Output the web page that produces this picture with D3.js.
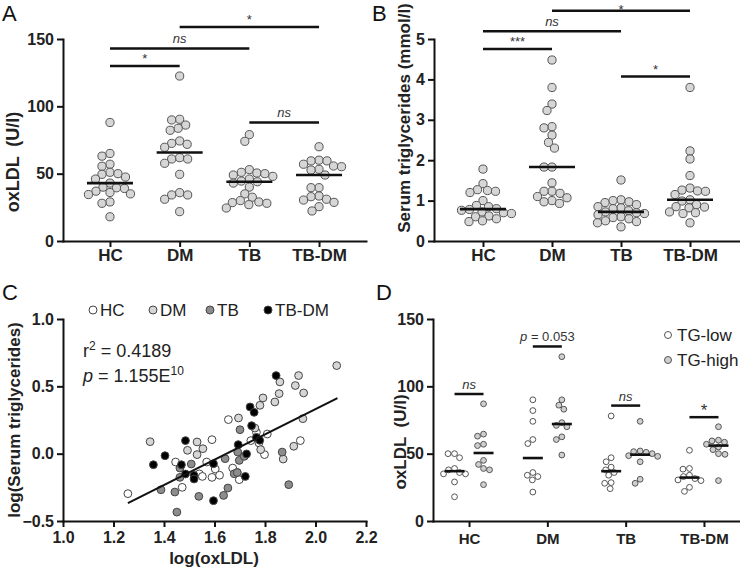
<!DOCTYPE html>
<html><head><meta charset="utf-8">
<script src="https://cdn.jsdelivr.net/npm/d3@7"></script>
<style>
body{margin:0;background:#fff;}
svg{font-family:"Liberation Sans",Arial,sans-serif;display:block;}
</style></head><body>
<svg id="fig" width="740" height="570"></svg>
<script>
// ---------- DATA ----------
const groups = ["HC","DM","TB","TB-DM"];

// Panel A: oxLDL (U/l)
const oxHC   = [88,65,63,57,55.5,51,50,49.5,47.5,46,43,40,39.5,39,37,36,35,34.5,29,28,18];
const oxDM   = [122.5,90.4,89.9,86.1,83.7,82.2,74.3,72.5,71.8,69.6,61.9,60.9,60.9,57.7,49.5,35.9,34.2,34.2,31,21.8];
const oxTB   = [79,74,53,51,50.5,50,49,48,46,44.5,44,43,40,35,32.5,30,29,28.5,28,27,24.5];
const oxTBDM = [70,60,59.5,59.5,57,55.7,55.2,53.2,52.7,49,39.6,39.6,33.4,32.9,31,30.4,28.7,25.5,22.3];
const ticksA = [0,50,100,150];
const sigA = [["HC","DM",130,"*"],["HC","TB",143,"ns"],["DM","TB-DM",159,"*"],["TB","TB-DM",88,"ns"]];

// Panel B: serum triglycerides (mmol/l)
const tgHC   = [1.78,1.42,1.27,1.25,1.23,1.2,1.0,0.88,0.85,0.8,0.78,0.76,0.72,0.7,0.68,0.62,0.6,0.55,0.5,0.48];
const tgDM   = [4.48,3.8,3.39,3.23,2.83,2.8,2.62,2.44,2.3,1.83,1.83,1.44,1.23,1.23,1.18,1.1,1.07,1.0,0.97,0.93];
const tgTB   = [1.51,1.02,1.0,0.97,0.95,0.9,0.85,0.82,0.8,0.75,0.72,0.7,0.68,0.65,0.6,0.58,0.55,0.5,0.48,0.45,0.35];
const tgTBDM = [3.8,2.23,2.03,1.62,1.31,1.26,1.24,1.23,1.15,1.02,0.99,0.9,0.85,0.84,0.82,0.72,0.7,0.68,0.45];
const ticksB = [0,1,2,3,4,5];
const sigB = [["HC","DM",4.75,"***"],["HC","TB",5.19,"ns"],["DM","TB-DM",5.7,"*"],["TB","TB-DM",4.07,"*"]];

// Panel C: log(oxLDL) vs log(serum TG)
const cHC = [[1.257,-0.297],[1.446,-0.062],[1.472,-0.25],[1.54,-0.15],[1.552,-0.169],[1.569,-0.062],[1.59,-0.176],[1.59,0.104],[1.603,-0.114],[1.655,0.253],[1.672,-0.107],[1.69,-0.14],[1.698,-0.193],[1.744,0.097],[1.766,0.159],[1.776,0.08],[1.798,-0.007],[1.809,0.146],[1.94,0.097],[1.62,-0.16]];
const cDM = [[2.084,0.654],[1.933,0.58],[1.859,0.533],[1.92,0.506],[1.856,0.446],[1.953,0.451],[1.792,0.414],[1.78,0.359],[1.839,0.384],[1.95,0.26],[1.695,0.265],[1.76,0.19],[1.345,0.089],[1.493,0.025],[1.531,0.087],[1.554,0.037],[1.531,-0.007],[1.914,0.055],[1.783,0.03],[1.872,-0.04]];
const cTB = [[1.388,-0.268],[1.443,-0.285],[1.451,-0.434],[1.463,-0.107],[1.463,-0.176],[1.508,-0.077],[1.538,-0.317],[1.642,-0.037],[1.636,-0.31],[1.653,-0.255],[1.701,0.178],[1.692,0.012],[1.698,-0.05],[1.678,-0.149],[1.69,-0.14],[1.868,0.012],[1.894,-0.23],[1.718,-0.02]];
const cTBDM = [[1.844,0.58],[1.741,0.347],[1.757,0.307],[1.747,0.208],[1.766,0.121],[1.779,0.099],[1.485,0.097],[1.404,-0.015],[1.358,-0.082],[1.469,-0.082],[1.485,-0.151],[1.519,-0.161],[1.519,-0.188],[1.596,-0.074],[1.596,-0.349],[1.694,0.067],[1.727,-0.002],[1.722,-0.169]];
const fitSlope = 0.94, fitIntercept = -1.549, fitRange = [1.257, 2.087];
const ticksCx = [1.0,1.2,1.4,1.6,1.8,2.0,2.2];
const ticksCy = [-0.5,0.0,0.5,1.0];

// Panel D: oxLDL by TG-low / TG-high
const dLowHC    = [50,50,47,39,38,36,35,35,29,18];
const dHighHC   = [87,64.5,63,57,56,45,42,39,38,27];
const dLowDM    = [90,82,74,60.5,57.5,36,34,33,30.5,21.5];
const dHighDM   = [122,90,86,83,73,71,70,62.5,60.5,49];
const dLowTB    = [78,47,44,40,38,36,34,28.5,28,24];
const dHighTB   = [74,52,51.5,51,50,48.5,48,44,31,28];
const dLowTBDM  = [52.5,39,38.5,34,33,31.5,30.5,30,25,22];
const dHighTBDM = [70,60,59.5,58.5,57,55,53,50,49.5,30];
const sigD = [["HC",94.3,"ns"],["DM",129.6,"p"],["TB",85.7,"ns"],["TB-DM",77.1,"*"]];

// ---------- DRAW ----------
const svg = d3.select("#fig");
const FONT_BOLD = 16;

function swarm(vals, y, r, gap) {
  const pts = vals.map(v => ({v, py: y(v)})).sort((a,b)=>a.py-b.py);
  const placed = [], d = 2*r + gap;
  for (const p of pts) {
    let off = 0;
    for (let k=0;k<400;k++){
      const o = (k%2===0?1:-1)*Math.ceil(k/2)*0.5;
      if (placed.every(q => (q.dx-o)**2 + (q.py-p.py)**2 >= d*d)) { off=o; break; }
    }
    p.dx = off; placed.push(p);
  }
  return pts;
}

function styleAxis(g, fs) {
  g.select(".domain").attr("stroke","#111").attr("stroke-width",2).attr("stroke-linecap","square");
  g.selectAll(".tick line").attr("stroke","#111").attr("stroke-width",2);
  g.selectAll(".tick text").attr("font-size",fs).attr("font-weight","bold").attr("fill","#222").attr("font-family","'Liberation Sans',Arial,sans-serif");
}

function panelLetter(t,x,y){
  svg.append("text").attr("x",x).attr("y",y).attr("font-size",22).attr("fill","#111").text(t);
}

function dotPanel(o){
  const x = d3.scalePoint().domain(groups).range(o.xr).padding(o.pad);
  const y = d3.scaleLinear().domain(o.yd).range(o.yr);
  const g = svg.append("g");
  o.series.forEach((vals,i)=>{
    const cx = x(groups[i]);
    const pts = swarm(vals, y, o.r, -0.2);
    g.selectAll(null).data(pts).join("circle")
      .attr("cx",p=>cx+p.dx).attr("cy",p=>p.py).attr("r",o.r)
      .attr("fill","#d6d6d6").attr("stroke","#555").attr("stroke-width",1);
    const m = d3.median(vals);
    g.append("line").attr("x1",cx-23).attr("x2",cx+23).attr("y1",y(m)).attr("y2",y(m))
      .attr("stroke","#111").attr("stroke-width",2.6);
  });
  o.sig.forEach(([a,b,v,lab])=>{
    g.append("line").attr("x1",x(a)).attr("x2",x(b)).attr("y1",y(v)).attr("y2",y(v))
      .attr("stroke","#111").attr("stroke-width",2.5);
    g.append("text").attr("x",(x(a)+x(b))/2).attr("y",Math.max(y(v)-(lab==="ns"?5:3),14))
      .attr("text-anchor","middle").attr("font-size",13)
      .attr("font-style",lab==="ns"?"italic":"normal").attr("fill","#333").text(lab);
  });
  const ax = g.append("g").attr("transform",`translate(0,${o.yr[0]})`)
    .call(d3.axisBottom(x).tickSize(6).tickSizeOuter(0).tickPadding(2));
  styleAxis(ax, 17);
  const ay = g.append("g").attr("transform",`translate(${o.xr[0]},0)`)
    .call(d3.axisLeft(y).tickValues(o.ticks).tickFormat(d3.format("d")).tickSize(6).tickSizeOuter(0).tickPadding(3));
  styleAxis(ay, FONT_BOLD);
  svg.append("text").attr("transform",`translate(${o.tx},${o.ty}) rotate(-90)`)
    .attr("text-anchor","middle").attr("font-size",o.tfs).attr("font-weight","bold").attr("fill","#222")
    .attr("xml:space","preserve").text(o.title);
}

// Panel A
panelLetter("A",2,21);
dotPanel({xr:[63,366],pad:0.674,yd:[0,150],yr:[241,39],r:4.1,
  series:[oxHC,oxDM,oxTB,oxTBDM],ticks:ticksA,sig:sigA,
  title:"oxLDL  (U/l)",tx:19,ty:162,tfs:18});

// Panel B
panelLetter("B",372,21);
dotPanel({xr:[434,739],pad:0.71,yd:[0,5],yr:[241,39],r:4.1,
  series:[tgHC,tgDM,tgTB,tgTBDM],ticks:ticksB,sig:sigB,
  title:"Serum triglycerides (mmol/l)",tx:410,ty:118,tfs:17});

// Panel C
panelLetter("C",2,300);
{
  const x = d3.scaleLinear().domain([1.0,2.2]).range([63,366]);
  const y = d3.scaleLinear().domain([-0.5,1.0]).range([521,319]);
  const g = svg.append("g");
  const sets = [[cHC,"#ffffff"],[cDM,"#d6d6d6"],[cTB,"#8c8c8c"],[cTBDM,"#000000"]];
  sets.forEach(([pts,fill])=>{
    g.selectAll(null).data(pts).join("circle")
      .attr("cx",d=>x(d[0])).attr("cy",d=>y(d[1])).attr("r",3.9)
      .attr("fill",fill).attr("stroke","#444").attr("stroke-width",1);
  });
  g.append("line").attr("x1",x(fitRange[0])).attr("y1",y(fitSlope*fitRange[0]+fitIntercept))
    .attr("x2",x(fitRange[1])).attr("y2",y(fitSlope*fitRange[1]+fitIntercept))
    .attr("stroke","#111").attr("stroke-width",2);
  const ax = g.append("g").attr("transform","translate(0,521)")
    .call(d3.axisBottom(x).tickValues(ticksCx).tickFormat(d3.format(".1f")).tickSize(6).tickSizeOuter(0).tickPadding(5));
  styleAxis(ax, FONT_BOLD);
  const ay = g.append("g").attr("transform","translate(63,0)")
    .call(d3.axisLeft(y).tickValues(ticksCy).tickFormat(d3.format(".1f")).tickSize(6).tickSizeOuter(0).tickPadding(3));
  styleAxis(ay, FONT_BOLD);
  svg.append("text").attr("x",214).attr("y",564).attr("text-anchor","middle")
    .attr("font-size",17).attr("font-weight","bold").attr("fill","#222").text("log(oxLDL)");
  svg.append("text").attr("transform","translate(20,420) rotate(-90)").attr("text-anchor","middle")
    .attr("font-size",17).attr("font-weight","bold").attr("fill","#222").text("log(Serum triglycerides)");
  // legend
  const leg = [["HC","#ffffff",93],["DM","#d6d6d6",153],["TB","#8c8c8c",210],["TB-DM","#000000",268]];
  leg.forEach(([t,f,lx])=>{
    svg.append("circle").attr("cx",lx).attr("cy",310).attr("r",4).attr("fill",f).attr("stroke","#444");
    svg.append("text").attr("x",lx+7).attr("y",316).attr("font-size",17).attr("fill","#222").text(t);
  });
  const t1 = svg.append("text").attr("x",83).attr("y",357).attr("font-size",18).attr("fill","#222");
  t1.append("tspan").text("r");
  t1.append("tspan").attr("dy",-7).attr("font-size",12).text("2");
  t1.append("tspan").attr("dy",7).text(" = 0.4189");
  const t2 = svg.append("text").attr("x",83).attr("y",382).attr("font-size",18).attr("fill","#222");
  t2.append("tspan").attr("font-style","italic").text("p");
  t2.append("tspan").text("  = 1.155E");
  t2.append("tspan").attr("dy",-7).attr("font-size",12).text("10");
}

// Panel D
panelLetter("D",376,300);
{
  const x = d3.scalePoint().domain(groups).range([433,740]).padding(0.46);
  const sub = d3.scalePoint().domain(["low","high"]).range([-14.5,14.5]);
  const y = d3.scaleLinear().domain([0,150]).range([521,319]);
  const g = svg.append("g");
  const lows = [dLowHC,dLowDM,dLowTB,dLowTBDM], highs = [dHighHC,dHighDM,dHighTB,dHighTBDM];
  groups.forEach((grp,i)=>{
    [["low",lows[i],"#ffffff"],["high",highs[i],"#cfcfcf"]].forEach(([k,vals,fill])=>{
      const cx = x(grp)+sub(k);
      const pts = swarm(vals,y,2.9,0.3);
      g.selectAll(null).data(pts).join("circle")
        .attr("cx",p=>cx+p.dx).attr("cy",p=>p.py).attr("r",2.9)
        .attr("fill",fill).attr("stroke","#555").attr("stroke-width",1);
      const m = d3.median(vals);
      g.append("line").attr("x1",cx-10).attr("x2",cx+10).attr("y1",y(m)).attr("y2",y(m))
        .attr("stroke","#111").attr("stroke-width",2.6);
    });
  });
  sigD.forEach(([grp,v,lab])=>{
    const x1 = x(grp)+sub("low"), x2 = x(grp)+sub("high");
    g.append("line").attr("x1",x1).attr("x2",x2).attr("y1",y(v)).attr("y2",y(v))
      .attr("stroke","#111").attr("stroke-width",2.5);
    const t = g.append("text").attr("x",(x1+x2)/2).attr("y",y(v)-(lab==="*"?1:5)).attr("text-anchor","middle")
      .attr("font-size",lab==="*"?17:13).attr("fill","#333");
    if (lab==="p") { t.append("tspan").attr("font-style","italic").text("p"); t.append("tspan").text(" = 0.053"); }
    else t.attr("font-style",lab==="ns"?"italic":"normal").text(lab);
  });
  const ax = g.append("g").attr("transform","translate(0,521)")
    .call(d3.axisBottom(x).tickSize(6).tickSizeOuter(0).tickPadding(6));
  styleAxis(ax, 15);
  const ay = g.append("g").attr("transform","translate(433,0)")
    .call(d3.axisLeft(y).tickValues(ticksA).tickSize(6).tickSizeOuter(0).tickPadding(3));
  styleAxis(ay, FONT_BOLD);
  svg.append("text").attr("transform","translate(406,442) rotate(-90)").attr("text-anchor","middle")
    .attr("font-size",17).attr("font-weight","bold").attr("fill","#222").attr("xml:space","preserve").text("oxLDL  (U/l)");
  [["TG-low","#ffffff",335],["TG-high","#cfcfcf",360]].forEach(([t,f,ly])=>{
    svg.append("circle").attr("cx",668).attr("cy",ly).attr("r",3.5).attr("fill",f).attr("stroke","#555");
    svg.append("text").attr("x",677).attr("y",ly+6).attr("font-size",17).attr("fill","#222").text(t);
  });
}
</script>
</body></html>
